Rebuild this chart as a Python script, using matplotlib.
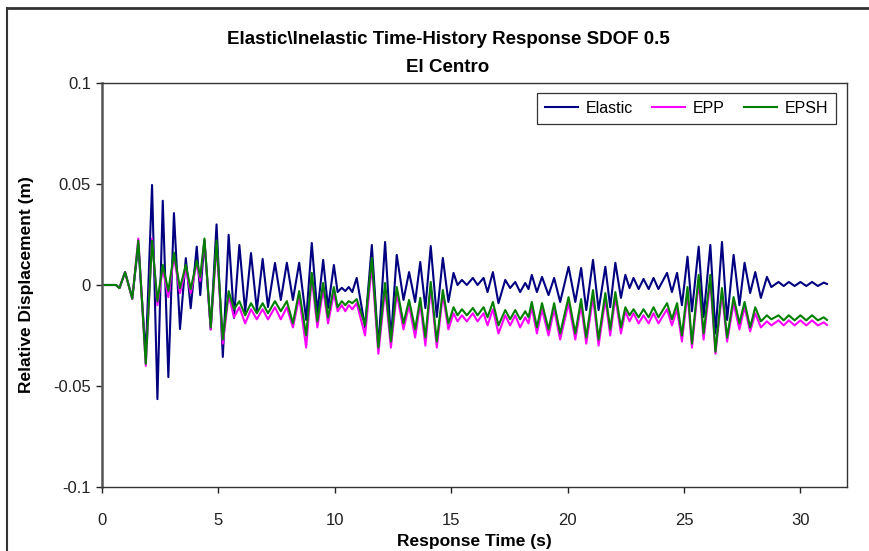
import matplotlib
matplotlib.use("Agg")
import matplotlib.pyplot as plt
from matplotlib.lines import Line2D
from matplotlib.ticker import FuncFormatter

plt.rcParams['font.family'] = ['Liberation Sans', 'DejaVu Sans']

# turning points of the response
t = [0.00, 0.60, 0.75, 0.99, 1.30, 1.56, 1.88, 2.15, 2.38, 2.61, 2.85, 3.09, 3.35, 3.60, 3.81, 4.07,
     4.22, 4.40, 4.67, 4.92, 5.19, 5.44, 5.67, 5.90, 6.15, 6.40, 6.65, 6.90, 7.13, 7.43, 7.68, 7.94,
     8.20, 8.47, 8.77, 9.01, 9.25, 9.50, 9.71, 9.96, 10.12, 10.30, 10.45, 10.60, 10.75, 10.94, 11.30,
     11.59, 11.87, 12.16, 12.41, 12.66, 12.95, 13.19, 13.45, 13.67, 13.89, 14.12, 14.38, 14.64, 14.88,
     15.10, 15.27, 15.46, 15.67, 15.93, 16.13, 16.39, 16.56, 16.79, 17.03, 17.32, 17.53, 17.75, 17.96,
     18.18, 18.32, 18.46, 18.68, 18.90, 19.18, 19.42, 19.68, 20.04, 20.33, 20.58, 20.80, 21.09, 21.33,
     21.62, 21.83, 22.05, 22.29, 22.48, 22.66, 22.83, 23.05, 23.26, 23.48, 23.69, 23.90, 24.27, 24.48,
     24.70, 24.91, 25.15, 25.34, 25.63, 25.84, 26.13, 26.35, 26.63, 26.85, 27.13, 27.38, 27.60, 27.84,
     28.06, 28.30, 28.56, 28.75, 29.06, 29.28, 29.50, 29.75, 30.00, 30.25, 30.50, 30.75, 31.00, 31.14]

elastic = [0, 0, -0.0015, 0.0064, -0.0064, 0.020, -0.035, 0.0495, -0.0565, 0.0417, -0.0456, 0.0356,
           -0.0218, 0.0133, -0.0115, 0.019, -0.005, 0.022, -0.022, 0.030, -0.0356, 0.0248, -0.0163,
           0.0198, -0.0132, 0.0158, -0.0124, 0.0129, -0.0109, 0.0109, -0.0074, 0.0110, -0.0074, 0.0110,
           -0.0173, 0.0208, -0.0139, 0.0124, -0.0114, 0.0099, -0.0035, -0.0014, -0.0030, -0.0010,
           -0.0035, 0.0035, -0.021, 0.0198, -0.031, 0.0213, -0.027, 0.0149, -0.0074, 0.0064, -0.0084,
           0.0114, -0.0114, 0.0193, -0.0158, 0.0134, -0.0084, 0.006, 0.000, 0.0025, 0.000, 0.0035,
           0.000, 0.0035, -0.0035, 0.0064, -0.009, 0.0025, -0.0015, 0.0015, -0.0035, 0.001, -0.002,
           0.005, -0.0035, 0.004, -0.005, 0.0035, -0.0084, 0.009, -0.0084, 0.0084, -0.0124, 0.0124,
           -0.0124, 0.009, -0.011, 0.011, -0.0064, 0.005, -0.0015, 0.0035, -0.002, 0.003, -0.002,
           0.0035, -0.002, 0.006, -0.0035, 0.006, -0.010, 0.014, -0.013, 0.019, -0.0158, 0.0198,
           -0.024, 0.0213, -0.0173, 0.0149, -0.010, 0.011, -0.004, 0.0064, -0.0064, 0.004, -0.001,
           0.0015, -0.0005, 0.0015, -0.0005, 0.0015, -0.0005, 0.0015, -0.0005, 0.0012, 0.0005]

epp = [0, 0, -0.0015, 0.0064, -0.0070, 0.023, -0.040, 0.023, -0.010, 0.008, -0.006, 0.014, -0.004,
       0.008, -0.004, 0.011, 0.002, 0.022, -0.022, 0.020, -0.029, -0.005, -0.016, -0.011, -0.019,
       -0.012, -0.017, -0.012, -0.017, -0.011, -0.017, -0.011, -0.021, -0.006, -0.031, 0.004, -0.021,
       -0.002, -0.019, -0.004, -0.013, -0.010, -0.013, -0.010, -0.012, -0.009, -0.025, 0.010, -0.034,
       -0.002, -0.031, -0.004, -0.022, -0.010, -0.026, -0.009, -0.030, -0.001, -0.031, -0.005, -0.022,
       -0.014, -0.018, -0.015, -0.018, -0.014, -0.018, -0.014, -0.020, -0.012, -0.024, -0.015, -0.020,
       -0.015, -0.021, -0.016, -0.019, -0.011, -0.024, -0.012, -0.025, -0.012, -0.027, -0.009, -0.027,
       -0.010, -0.029, -0.006, -0.030, -0.007, -0.025, -0.006, -0.024, -0.013, -0.018, -0.014, -0.019,
       -0.015, -0.019, -0.014, -0.019, -0.012, -0.020, -0.012, -0.028, -0.004, -0.031, 0.002, -0.027,
       0.002, -0.034, -0.004, -0.028, -0.009, -0.022, -0.011, -0.023, -0.014, -0.021, -0.018, -0.020,
       -0.0175, -0.020, -0.0175, -0.020, -0.0175, -0.020, -0.0175, -0.020, -0.0185, -0.0198]

epsh = [0, 0, -0.0015, 0.0064, -0.0068, 0.022, -0.039, 0.022, -0.008, 0.010, -0.003, 0.016, -0.0015,
        0.010, -0.002, 0.012, 0.004, 0.023, -0.021, 0.022, -0.027, -0.003, -0.012, -0.008, -0.015,
        -0.009, -0.014, -0.009, -0.014, -0.008, -0.013, -0.008, -0.019, -0.003, -0.025, 0.006, -0.018,
        0.001, -0.016, -0.001, -0.011, -0.008, -0.010, -0.008, -0.009, -0.007, -0.020, 0.0134, -0.031,
        0.001, -0.028, -0.001, -0.019, -0.0074, -0.022, -0.0064, -0.026, 0.0015, -0.028, -0.0025,
        -0.019, -0.011, -0.015, -0.012, -0.015, -0.0114, -0.015, -0.011, -0.016, -0.0084, -0.020,
        -0.0124, -0.017, -0.0124, -0.017, -0.013, -0.016, -0.0084, -0.021, -0.009, -0.022, -0.009,
        -0.024, -0.006, -0.024, -0.007, -0.026, -0.0025, -0.027, -0.004, -0.022, -0.0035, -0.021,
        -0.011, -0.015, -0.012, -0.016, -0.012, -0.016, -0.011, -0.016, -0.009, -0.017, -0.009,
        -0.025, -0.001, -0.029, 0.005, -0.024, 0.005, -0.033, -0.0015, -0.026, -0.006, -0.019,
        -0.0084, -0.021, -0.011, -0.018, -0.015, -0.017, -0.015, -0.0175, -0.015, -0.0175, -0.015,
        -0.0175, -0.015, -0.0175, -0.016, -0.0173]

fig = plt.figure(figsize=(8.69, 5.51), dpi=100)
ax = fig.add_axes([102 / 869, 1 - 487 / 551, 745 / 869, 404 / 551])

ax.plot(t, elastic, color='#000080', lw=1.5, label='Elastic', solid_joinstyle='round')
ax.plot(t, epp, color='#ff00ff', lw=1.5, label='EPP', solid_joinstyle='round')
ax.plot(t, epsh, color='#008000', lw=1.5, label='EPSH', solid_joinstyle='round')

ax.set_xlim(0, 32)
ax.set_ylim(-0.1, 0.1)
ax.set_xticks([0, 5, 10, 15, 20, 25, 30])
ax.set_yticks([-0.1, -0.05, 0, 0.05, 0.1])
ax.yaxis.set_major_formatter(FuncFormatter(lambda v, p: '{:g}'.format(round(v, 3))))
ax.tick_params(direction='out', length=4, width=1, labelsize=12, colors='#222222')
ax.tick_params(axis='x', pad=15)
ax.tick_params(axis='y', pad=4)

for side in ['top', 'right', 'bottom']:
    ax.spines[side].set_color('#333333')
    ax.spines[side].set_linewidth(1)
ax.spines['left'].set_color('#555555')
ax.spines['left'].set_linewidth(1.8)

ax.set_xlabel('Response Time (s)', fontsize=12.5, fontweight='bold', labelpad=4)
ax.set_ylabel('Relative Displacement (m)', fontsize=12.5, fontweight='bold', labelpad=14)

fig.text(448 / 869, 1 - 40 / 551, 'Elastic\\Inelastic Time-History Response SDOF 0.5',
         ha='center', va='center', fontsize=13.5, fontweight='bold')
fig.text(448 / 869, 1 - 68 / 551, 'El Centro', ha='center', va='center',
         fontsize=13.5, fontweight='bold')

leg = ax.legend(loc='upper right', bbox_to_anchor=(0.985, 0.975), ncol=3, frameon=True,
                fancybox=False, edgecolor='black', fontsize=11.5, handlelength=2.1,
                columnspacing=1.2, handletextpad=0.45, borderpad=0.5, borderaxespad=0)
leg.get_frame().set_linewidth(0.9)

# outer chart border
fig.add_artist(Line2D([7 / 869, 1], [1 - 8 / 551, 1 - 8 / 551], color='#333333', lw=2))
fig.add_artist(Line2D([7 / 869, 7 / 869], [0, 1 - 8 / 551], color='#333333', lw=1.5))

fig.savefig('out.png', dpi=100)
